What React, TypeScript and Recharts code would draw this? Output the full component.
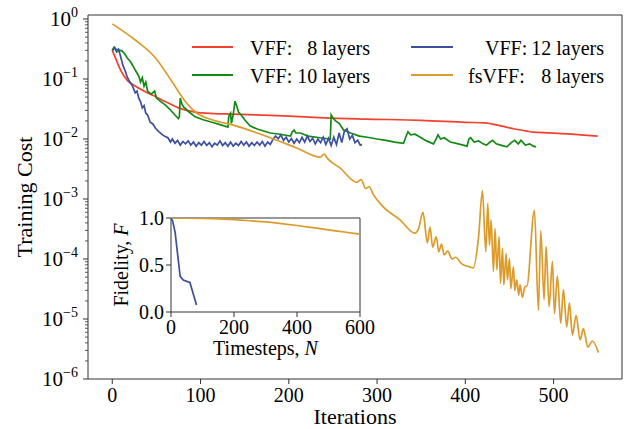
import React from 'react';
import { LineChart, Line, XAxis, YAxis, ReferenceLine } from 'recharts';

const FONT = '"Liberation Serif", "Times New Roman", "DejaVu Serif", serif';
const AX = '#333333';

// ---- series metadata ----
const seriesNames = ['VFF:', 'VFF:', 'VFF:', 'fsVFF:'];
const seriesLayers = ['8 layers', '10 layers', '12 layers', '8 layers'];
const seriesColors = ['#f4412c', '#138a13', '#3d4fa3', '#dd9b2b'];

// ---- VFF 8 layers (red) ----
const redIter = [0, 5, 10, 17, 25, 37, 50, 60, 75, 94, 115, 136, 170, 200, 240, 287, 350, 400, 422, 440, 456, 470, 477, 482, 500, 550];
const redCost = [0.30, 0.2, 0.135, 0.095, 0.078, 0.062, 0.05, 0.042, 0.033, 0.028, 0.0265, 0.026, 0.025, 0.024, 0.0225, 0.0215, 0.0205, 0.019, 0.0185, 0.0165, 0.0147, 0.0135, 0.013, 0.0129, 0.0125, 0.0112];

// ---- VFF 10 layers (green) ----
const greenIter = [0, 2, 5, 8, 11, 14, 17, 20, 23, 26, 28, 30, 32, 34, 36, 38, 40, 44, 48, 50, 55, 60, 65, 71, 75, 76, 77, 79, 81, 87, 94, 103, 113, 122, 131, 132, 134, 135, 137, 139, 141, 143, 146, 150, 156, 165, 179, 190, 202, 204, 206, 208, 213, 222, 235, 247, 248, 250, 253, 257, 262, 270, 280, 289, 300, 310, 320, 330, 333, 335, 338, 343, 349, 356, 364, 367, 369, 372, 376, 383, 392, 402, 404, 406, 410, 415, 420, 424, 428, 431, 435, 440, 447, 452, 456, 460, 463, 468, 473, 477, 480];
const greenCost = [0.302, 0.339, 0.282, 0.302, 0.295, 0.263, 0.224, 0.2, 0.17, 0.141, 0.126, 0.112, 0.089, 0.105, 0.076, 0.089, 0.063, 0.056, 0.063, 0.048, 0.042, 0.037, 0.0316, 0.0251, 0.0219, 0.0234, 0.048, 0.038, 0.034, 0.0282, 0.0234, 0.0209, 0.019, 0.0174, 0.0158, 0.024, 0.0269, 0.0182, 0.0251, 0.0427, 0.0355, 0.0282, 0.0251, 0.0209, 0.0166, 0.0145, 0.0126, 0.012, 0.0112, 0.0132, 0.0141, 0.0126, 0.0126, 0.0112, 0.0105, 0.01, 0.0251, 0.0224, 0.02, 0.0182, 0.0141, 0.0126, 0.0112, 0.0107, 0.01, 0.0095, 0.0089, 0.0085, 0.0112, 0.0132, 0.0117, 0.012, 0.0107, 0.0093, 0.0083, 0.01, 0.0117, 0.01, 0.0105, 0.0089, 0.0083, 0.0076, 0.01, 0.0105, 0.0089, 0.0093, 0.0083, 0.0079, 0.0089, 0.0095, 0.0083, 0.0079, 0.0074, 0.0087, 0.0095, 0.0083, 0.0095, 0.0079, 0.0083, 0.0076, 0.0074];

// ---- VFF 12 layers (blue) ----
const blueIter = [0, 3, 5, 7, 9, 12, 15, 17, 20, 23, 26, 28, 30, 32, 34, 36, 38, 40, 43, 46, 49, 53, 57, 60, 63, 66, 68, 71, 74, 77, 80, 83, 86, 89, 92, 95, 98, 101, 104, 107, 110, 113, 116, 119, 122, 125, 128, 131, 134, 137, 140, 143, 146, 149, 152, 155, 158, 161, 164, 167, 170, 173, 176, 179, 182, 185, 188, 191, 194, 197, 200, 203, 206, 209, 212, 215, 218, 221, 224, 227, 230, 233, 236, 239, 242, 245, 248, 251, 254, 257, 260, 263, 266, 269, 272, 275, 278, 281, 283];
const blueCost = [0.295, 0.331, 0.302, 0.316, 0.251, 0.17, 0.132, 0.107, 0.089, 0.076, 0.059, 0.063, 0.048, 0.042, 0.033, 0.036, 0.0269, 0.0251, 0.019, 0.0178, 0.0151, 0.0132, 0.0117, 0.011, 0.0105, 0.0089, 0.01, 0.0085, 0.0095, 0.0079, 0.0091, 0.0083, 0.0093, 0.0079, 0.0089, 0.0076, 0.0087, 0.0079, 0.0091, 0.0078, 0.0087, 0.0074, 0.0085, 0.0079, 0.0093, 0.0078, 0.0087, 0.0076, 0.0089, 0.0076, 0.0085, 0.0078, 0.0091, 0.0079, 0.0089, 0.0076, 0.0087, 0.0078, 0.0089, 0.0079, 0.0091, 0.0076, 0.0089, 0.0081, 0.0098, 0.0112, 0.0101, 0.0117, 0.0095, 0.0107, 0.0089, 0.0102, 0.0085, 0.0100, 0.0087, 0.0107, 0.0089, 0.0112, 0.0091, 0.0103, 0.0083, 0.0100, 0.0087, 0.0107, 0.0081, 0.0103, 0.0078, 0.0107, 0.0081, 0.0126, 0.0087, 0.0135, 0.0148, 0.0100, 0.0115, 0.0087, 0.0096, 0.0079, 0.0081];

// ---- fsVFF 8 layers (orange) ----
const orangeIter = [0, 26, 49, 68, 83, 94, 113, 137, 179, 209, 236, 240, 244, 258, 277, 282, 287, 291, 296, 307, 326, 343, 347, 352, 357, 360, 363, 367, 370, 373, 376, 380, 385, 389, 396, 405, 409, 415, 419.4, 423.2, 425.4, 427.3, 429.2, 431.9, 433.7, 435.7, 438.3, 439.8, 442.1, 443.6, 446.2, 447.7, 450, 451.5, 454.5, 456, 458.3, 460.5, 462, 464.7, 467.7, 469.6, 478.3, 482.8, 485.5, 489.2, 491.5, 494.9, 498.7, 501, 504.3, 508.1, 511.1, 514.9, 517.9, 521.3, 525.5, 530, 533.8, 538.7, 544, 550.8];
const orangeCost = [0.83, 0.447, 0.224, 0.089, 0.0417, 0.0282, 0.0209, 0.017, 0.0105, 0.0071, 0.005, 0.0056, 0.0047, 0.0033, 0.0019, 0.0021, 0.0015, 0.0016, 0.00117, 0.00074, 0.00045, 0.00027, 0.00032, 0.0006, 0.000186, 0.00034, 0.000158, 0.000234, 0.000132, 0.000178, 0.000117, 0.000135, 0.0001, 0.000107, 0.000083, 0.000074, 0.000071, 0.000234, 0.00138, 0.000132, 0.00085, 0.00017, 0.00045, 0.000062, 0.00032, 0.000066, 0.000234, 0.000039, 0.00015, 0.000037, 0.000123, 0.000045, 0.000102, 0.000032, 0.000074, 0.00003, 0.000045, 0.000025, 0.000037, 0.000023, 0.000035, 0.000035, 0.00065, 0.000014, 0.000295, 0.000021, 0.000162, 0.000016, 0.000091, 0.0000123, 0.000052, 0.0000085, 0.000031, 0.0000074, 0.0000186, 0.0000054, 0.0000115, 0.0000045, 0.0000069, 0.0000034, 0.0000043, 0.00000275];

// ---- inset: fidelity vs timesteps ----
const insetBlueN = [0, 5, 13, 29, 39, 50, 60, 81];
const insetBlueF = [1.0, 0.97, 0.85, 0.38, 0.34, 0.326, 0.315, 0.075];
const insetOrangeN = [0, 50, 100, 150, 200, 250, 300, 350, 400, 450, 500, 550, 600];
const insetOrangeF = [1.0, 0.999, 0.996, 0.99, 0.982, 0.971, 0.958, 0.94, 0.92, 0.897, 0.873, 0.851, 0.828];

// ---- ticks ----
const xTicks = [0, 100, 200, 300, 400, 500];
const yDecades = [-6, -5, -4, -3, -2, -1, 0];
const yMinorMult = [2, 3, 4, 5, 6, 7, 8, 9];
const insetXTicks = [0, 200, 400, 600];
const insetYTicks = [0, 0.5, 1.0];

const X_DOMAIN: [number, number] = [-27.5, 577.5];
const Y_DOMAIN: [number, number] = [1e-6, 1.166];

const zip = (xs: number[], ys: number[], kx: string, ky: string) => xs.map((x, i) => ({ [kx]: x, [ky]: ys[i] }));
const redData = zip(redIter, redCost, 'iter', 'cost');
const greenData = zip(greenIter, greenCost, 'iter', 'cost');
const blueData = zip(blueIter, blueCost, 'iter', 'cost');
const orangeData = zip(orangeIter, orangeCost, 'iter', 'cost');
const insetBlue = zip(insetBlueN, insetBlueF, 'n', 'f');
const insetOrange = zip(insetOrangeN, insetOrangeF, 'n', 'f');

const yTicks: number[] = [];
yDecades.forEach((e) => {
  yTicks.push(Math.pow(10, e));
  if (e < 0) yMinorMult.forEach((m) => yTicks.push(m * Math.pow(10, e)));
});

const TS = 20;

const YTick = (props: any) => {
  const { x, y, payload } = props;
  const lg = Math.log10(payload.value);
  const major = Math.abs(lg - Math.round(lg)) < 1e-6;
  if (!major) return <line x1={x} x2={x - 3} y1={y} y2={y} stroke={AX} strokeWidth={0.8} />;
  const e = Math.round(lg);
  return (
    <g>
      <line x1={x} x2={x - 5} y1={y} y2={y} stroke={AX} strokeWidth={1} />
      <text x={x - 10} y={y + 7} textAnchor="end" fontFamily={FONT} fontSize={21} fill="#000">
        10<tspan dy={-9} fontSize={14}>{e === 0 ? '0' : '\u2212' + Math.abs(e)}</tspan>
      </text>
    </g>
  );
};

const XTick = (props: any) => {
  const { x, y, payload } = props;
  return (
    <g>
      <line x1={x} x2={x} y1={y} y2={y + 5} stroke={AX} strokeWidth={1} />
      <text x={x} y={y + 23} textAnchor="middle" fontFamily={FONT} fontSize={TS} fill="#000">{payload.value}</text>
    </g>
  );
};

const IYTick = (props: any) => {
  const { x, y, payload } = props;
  return (
    <g>
      <line x1={x} x2={x - 5} y1={y} y2={y} stroke={AX} strokeWidth={1} />
      <text x={x - 7} y={y + 7} textAnchor="end" fontFamily={FONT} fontSize={TS} fill="#000">{Number(payload.value).toFixed(1)}</text>
    </g>
  );
};

const IXTick = (props: any) => {
  const { x, y, payload } = props;
  return (
    <g>
      <line x1={x} x2={x} y1={y} y2={y + 5} stroke={AX} strokeWidth={1} />
      <text x={x} y={y + 22} textAnchor="middle" fontFamily={FONT} fontSize={TS} fill="#000">{payload.value}</text>
    </g>
  );
};

const Legend = () => {
  const cols = [
    { lineX1: 192, lineX2: 233, textEnd: 370 },
    { lineX1: 411, lineX2: 453, textEnd: 604 },
  ];
  const starts = [250, 250, 485, 468];
  const rows = [47, 75];
  return (
    <svg width={627} height={429} style={{ position: 'absolute', left: 0, top: 0, pointerEvents: 'none' }}>
      {seriesNames.map((nm, si) => {
        const c = cols[Math.floor(si / 2)];
        const ry = rows[si % 2];
        return (
          <g key={si}>
            <line x1={c.lineX1} x2={c.lineX2} y1={ry} y2={ry} stroke={seriesColors[si]} strokeWidth={2} />
            <text x={starts[si]} y={ry + 8} fontFamily={FONT} fontSize={20} fill="#000">{nm}</text>
            <text x={c.textEnd} y={ry + 8} textAnchor="end" fontFamily={FONT} fontSize={20} fill="#000">{seriesLayers[si]}</text>
          </g>
        );
      })}
    </svg>
  );
};

const XTitle = (props: any) => {
  const vb = props.viewBox || { x: 88, y: 379, width: 534 };
  return (
    <text x={vb.x + vb.width / 2} y={vb.y + 45} textAnchor="middle" fontFamily={FONT} fontSize={22} fill="#000">Iterations</text>
  );
};

const YTitle = (props: any) => {
  const vb = props.viewBox || { y: 15, height: 364 };
  const cy = vb.y + vb.height / 2;
  return (
    <text x={24} y={cy} transform={`rotate(-90, 24, ${cy})`} textAnchor="middle" dominantBaseline="central" fontFamily={FONT} fontSize={22} fill="#000">Training Cost</text>
  );
};

const IXTitle = (props: any) => {
  const vb = props.viewBox || { x: 71, y: 107, width: 189 };
  return (
    <text x={vb.x + vb.width / 2} y={vb.y + 43} textAnchor="middle" fontFamily={FONT} fontSize={20} fill="#000">
      Timesteps, <tspan fontStyle="italic">N</tspan>
    </text>
  );
};

const IYTitle = (props: any) => {
  const vb = props.viewBox || { y: 13, height: 94 };
  const cy = vb.y + vb.height / 2;
  const cx = 21;
  return (
    <text x={cx} y={cy} transform={`rotate(-90, ${cx}, ${cy})`} textAnchor="middle" dominantBaseline="central" fontFamily={FONT} fontSize={20} fill="#000">
      Fidelity, <tspan fontStyle="italic">F</tspan>
    </text>
  );
};

export default function App() {
  return (
    <div style={{ position: 'absolute', left: 0, top: 0, width: 627, height: 429, background: '#fff' }}>
      <LineChart width={627} height={429} margin={{ top: 15, right: 5, bottom: 0, left: 0 }}>
        <XAxis
          type="number"
          dataKey="iter"
          domain={X_DOMAIN}
          allowDataOverflow
          ticks={xTicks}
          interval={0}
          tick={<XTick />}
          tickLine={false}
          tickSize={0}
          tickMargin={0}
          height={50}
          stroke={AX}
          label={<XTitle />}
        />
        <YAxis
          type="number"
          dataKey="cost"
          scale="log"
          domain={Y_DOMAIN}
          allowDataOverflow
          ticks={yTicks}
          interval={0}
          tick={<YTick />}
          tickLine={false}
          tickSize={0}
          tickMargin={0}
          width={88}
          stroke={AX}
          label={<YTitle />}
        />
        <ReferenceLine y={Y_DOMAIN[1]} stroke={AX} strokeWidth={1} />
        <ReferenceLine x={X_DOMAIN[1]} stroke={AX} strokeWidth={1} />
        <Line data={redData} dataKey="cost" type="monotone" stroke={seriesColors[0]} strokeWidth={1.7} dot={false} isAnimationActive={false} />
        <Line data={greenData} dataKey="cost" type="linear" stroke={seriesColors[1]} strokeWidth={1.7} dot={false} isAnimationActive={false} />
        <Line data={blueData} dataKey="cost" type="linear" stroke={seriesColors[2]} strokeWidth={1.7} dot={false} isAnimationActive={false} />
        <Line data={orangeData} dataKey="cost" type="monotone" stroke={seriesColors[3]} strokeWidth={1.7} dot={false} isAnimationActive={false} />
      </LineChart>
      <Legend />
      <div style={{ position: 'absolute', left: 100, top: 205, width: 290, height: 160 }}>
        <LineChart width={290} height={160} margin={{ top: 13, right: 30, bottom: 0, left: 0 }}>
          <XAxis
            type="number"
            dataKey="n"
            domain={[0, 600]}
            allowDataOverflow
            ticks={insetXTicks}
            interval={0}
            tick={<IXTick />}
            tickLine={false}
            tickSize={0}
            tickMargin={0}
            height={53}
            stroke={AX}
            label={<IXTitle />}
          />
          <YAxis
            type="number"
            dataKey="f"
            domain={[0, 1]}
            allowDataOverflow
            ticks={insetYTicks}
            interval={0}
            tick={<IYTick />}
            tickLine={false}
            tickSize={0}
            tickMargin={0}
            width={71}
            stroke={AX}
            label={<IYTitle />}
          />
          <ReferenceLine y={1} stroke={AX} strokeWidth={1} />
          <ReferenceLine x={600} stroke={AX} strokeWidth={1} />
          <Line data={insetBlue} dataKey="f" type="linear" stroke={seriesColors[2]} strokeWidth={1.7} dot={false} isAnimationActive={false} />
          <Line data={insetOrange} dataKey="f" type="monotone" stroke={seriesColors[3]} strokeWidth={1.7} dot={false} isAnimationActive={false} />
        </LineChart>
      </div>
    </div>
  );
}
